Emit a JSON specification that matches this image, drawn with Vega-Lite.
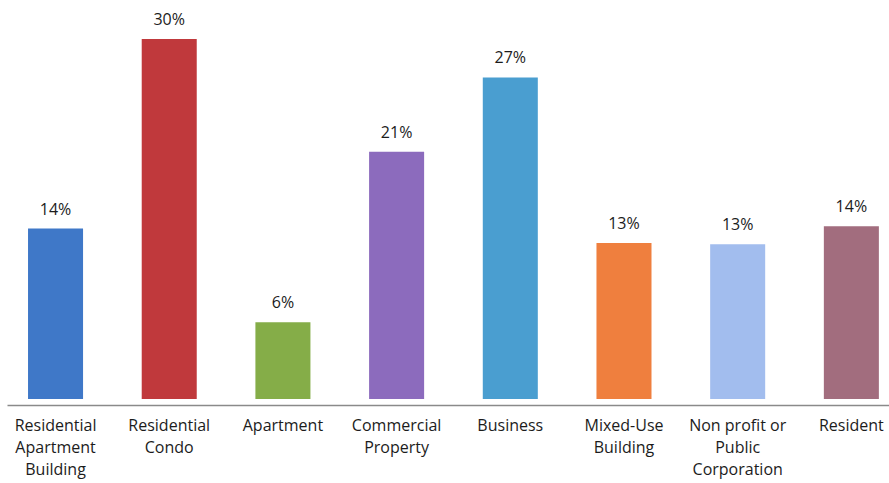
{
  "$schema": "https://vega.github.io/schema/vega-lite/v6.json",
  "autosize": {"type": "none"},
  "width": 882,
  "height": 405,
  "padding": {"left": 7, "top": 0, "right": 0, "bottom": 78},
  "background": "white",
  "config": {"view": {"stroke": null}, "font": "Open Sans"},
  "data": {
    "values": [
      {"category": "Residential Apartment Building", "share": 0.142},
      {"category": "Residential Condo", "share": 0.30},
      {"category": "Apartment", "share": 0.064},
      {"category": "Commercial Property", "share": 0.206},
      {"category": "Business", "share": 0.268},
      {"category": "Mixed-Use Building", "share": 0.13},
      {"category": "Non profit or Public Corporation", "share": 0.129},
      {"category": "Resident", "share": 0.144}
    ]
  },
  "encoding": {
    "x": {
      "field": "category",
      "type": "nominal",
      "sort": null,
      "scale": {"paddingInner": 0.516, "paddingOuter": 0.137, "align": 0.675},
      "axis": {
        "title": null,
        "labelAngle": 0,
        "ticks": false,
        "domainColor": "#8a8a8a",
        "domainWidth": 1.5,
        "labelFont": "Open Sans",
        "labelFontSize": 16,
        "labelColor": "#1c1c1c",
        "labelPadding": 12,
        "labelLineHeight": 22,
        "labelBaseline": "top",
        "labelLimit": 0,
        "labelExpr": "datum.label == 'Non profit or Public Corporation' ? ['Non profit or', 'Public', 'Corporation'] : split(datum.label, ' ')"
      }
    },
    "y": {
      "field": "share",
      "type": "quantitative",
      "scale": {"domain": [-0.005, 0.3325], "nice": false, "zero": false},
      "axis": null
    }
  },
  "layer": [
    {
      "mark": {"type": "bar"},
      "encoding": {
        "y2": {"datum": 0},
        "color": {
          "field": "category",
          "type": "nominal",
          "sort": null,
          "legend": null,
          "scale": {
            "domain": ["Residential Apartment Building", "Residential Condo", "Apartment", "Commercial Property", "Business", "Mixed-Use Building", "Non profit or Public Corporation", "Resident"],
            "range": ["#3f78c8", "#c0393c", "#85ad48", "#8c6bbd", "#4a9ed0", "#ef7f3e", "#a2bdee", "#a26d7e"]
          }
        }
      }
    },
    {
      "mark": {"type": "text", "baseline": "alphabetic", "dy": -14, "fontSize": 16, "color": "#1c1c1c", "font": "Open Sans"},
      "encoding": {
        "text": {"field": "share", "type": "quantitative", "format": ".0%"}
      }
    }
  ]
}
